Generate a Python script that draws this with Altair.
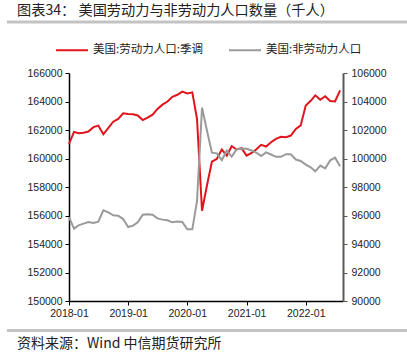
import altair as alt
import pandas as pd

# ---- data ----
months = pd.date_range("2018-01-01", "2022-08-01", freq="MS").strftime("%Y/%m/%d").tolist()

labor_force = [
    161030, 161870, 161780, 161810, 161890, 162200, 162310, 161700, 162150, 162580, 162780, 163170,
    163130, 163100, 163020, 162700, 162870, 163080, 163480, 163780, 164000, 164330, 164470, 164690,
    164560, 164640, 162790, 156330, 158090, 159780, 159970, 160630, 160200, 160860, 160630, 160720,
    160200, 160390, 160630, 160960, 160840, 161140, 161380, 161520, 161500, 161610, 162080, 162320,
    163720, 164050, 164430, 164120, 164370, 164030, 164000, 164780,
]
not_in_labor_force = [
    95890, 95080, 95310, 95430, 95540, 95470, 95570, 96360, 96220, 96010, 95990, 95750,
    95190, 95290, 95520, 96060, 96080, 96060, 95800, 95710, 95660, 95520, 95570, 95540,
    95030, 95030, 97000, 103570, 101980, 100410, 100360, 99890, 100550, 100130, 100650, 100700,
    100680, 100560, 100420, 100180, 100430, 100280, 100120, 100120, 100300, 100300, 99930, 99830,
    99570, 99380, 99100, 99500, 99300, 99870, 100060, 99450,
]
series_names = ["美国:劳动力人口:季调", "美国:非劳动力人口"]
series_colors = ["#e0141c", "#9a9a9a"]
year_ticks = [2018, 2019, 2020, 2021, 2022]
left_ticks = list(range(150000, 166001, 2000))
right_ticks = list(range(90000, 106001, 2000))
title_text = "图表34： 美国劳动力与非劳动力人口数量（千人）"
source_text = "资料来源：Wind 中信期货研究所"

n = len(months)
df = pd.DataFrame({
    "date": months * 2,
    "value": labor_force + not_in_labor_force,
    "series": [series_names[0]] * n + [series_names[1]] * n,
})

W, H = 274, 228
CJK = "Noto Sans CJK SC"
LAT = "Liberation Sans"

x_enc = alt.X(
    "date:T",
    title=None,
    scale=alt.Scale(domain=[alt.DateTime(year=2018, month=1, date=1),
                            alt.DateTime(year=2022, month=8, date=19)]),
    axis=alt.Axis(values=[alt.DateTime(year=y, month=1, date=1) for y in year_ticks],
                  format="%Y-%m", labelFont=LAT, labelFontSize=10.5, labelColor="#222",
                  domainColor="#000", domainWidth=1.5, tickColor="#000", tickSize=4,
                  labelPadding=3, grid=False, labelFlush=False),
)

color_enc = alt.Color(
    "series:N",
    scale=alt.Scale(domain=series_names, range=series_colors),
    legend=alt.Legend(title=None, orient="none", legendX=-14, legendY=-40,
                      direction="horizontal", symbolType="stroke", symbolSize=1024,
                      symbolStrokeWidth=2, labelFont=CJK, labelFontSize=11.5,
                      labelColor="#222", columnPadding=22, labelOffset=4, padding=0),
)

red = alt.Chart(df).transform_filter(
    alt.datum.series == series_names[0]
).mark_line(strokeWidth=2).encode(
    x=x_enc,
    y=alt.Y("value:Q", title=None,
            scale=alt.Scale(domain=[150000, 166000], nice=False, zero=False),
            axis=alt.Axis(orient="left", values=left_ticks, format="d", labelFont=LAT,
                          labelFontSize=10.5, labelColor="#222", domainColor="#000",
                          domainWidth=1.5, tickColor="#000", tickSize=4, labelPadding=3,
                          grid=False)),
    color=color_enc,
)

gray = alt.Chart(df).transform_filter(
    alt.datum.series == series_names[1]
).mark_line(strokeWidth=2).encode(
    x=x_enc,
    y=alt.Y("value:Q", title=None,
            scale=alt.Scale(domain=[90000, 106000], nice=False, zero=False),
            axis=alt.Axis(orient="right", values=right_ticks, format="d", labelFont=LAT,
                          labelFontSize=10.5, labelColor="#222", domainColor="#595959",
                          domainWidth=2, tickColor="#595959", tickSize=4, labelPadding=4,
                          grid=False)),
    color=color_enc,
)

one = pd.DataFrame({"t": [title_text], "s": [source_text]})

title_mark = alt.Chart(one).mark_text(
    align="left", baseline="middle", font=CJK, fontSize=14.2, color="#222"
).encode(x=alt.value(-52), y=alt.value(-62), text="t:N")

source_mark = alt.Chart(one).mark_text(
    align="left", baseline="middle", font=CJK, fontSize=14, color="#222"
).encode(x=alt.value(-52), y=alt.value(271), text="s:N")

top_rule = alt.Chart(one).mark_rule(color="#c3c3c3", strokeWidth=3).encode(
    x=alt.value(-62), x2=alt.value(338), y=alt.value(-51))
bottom_rule = alt.Chart(one).mark_rule(color="#c3c3c3", strokeWidth=3).encode(
    x=alt.value(-62), x2=alt.value(338), y=alt.value(257.5))

chart = alt.layer(red, gray, title_mark, source_mark, top_rule, bottom_rule).resolve_scale(
    y="independent"
).properties(
    width=W, height=H,
    autosize=alt.AutoSizeParams(type="none"),
    padding={"left": 69, "top": 73, "right": 64, "bottom": 57},
    background="white",
).configure_view(stroke=None)

chart.save("out.html", embed_options={"renderer": "svg", "actions": False})
